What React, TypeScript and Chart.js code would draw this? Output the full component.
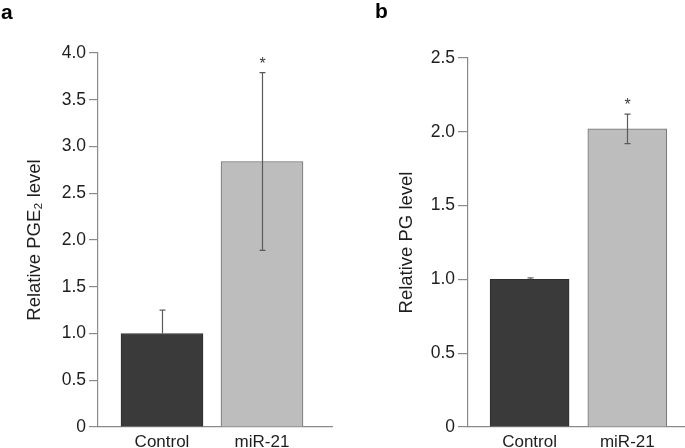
import React, { useEffect, useRef } from "react";
import { Chart, registerables } from "chart.js";

Chart.register(...registerables);

const categories = ["Control", "miR-21"];

const aValues = [1.0, 2.84];
const aLower = [1.0, 1.89];
const aUpper = [1.25, 3.79];
const aSig = [false, true];
const aTicks = [0, 0.5, 1.0, 1.5, 2.0, 2.5, 3.0, 3.5, 4.0];
const aTitle = "Relative PGE\u2082 level";

const bValues = [1.0, 2.02];
const bLower = [1.0, 1.92];
const bUpper = [1.01, 2.12];
const bSig = [false, true];
const bTicks = [0, 0.5, 1.0, 1.5, 2.0, 2.5];
const bTitle = "Relative PG level";

const FONT = "'Liberation Sans', Arial, Helvetica, sans-serif";
const AXIS = "#8a8a8a";
const TEXT = "#1e1e1e";

const errorPlugin = {
  id: "errbars",
  afterDatasetsDraw(chart: any) {
    const o = chart.options.plugins.errbars;
    if (!o) return;
    const xs = chart.scales.x;
    const ys = chart.scales.y;
    const ctx = chart.ctx;
    ctx.save();
    ctx.strokeStyle = "#5a5a5a";
    ctx.lineWidth = 1.2;
    o.values.forEach((v: number, i: number) => {
      const x = Math.round(xs.getPixelForValue(i)) + 0.5;
      const yU = ys.getPixelForValue(o.upper[i]);
      const yL = ys.getPixelForValue(o.lower[i]);
      ctx.beginPath();
      ctx.moveTo(x, yL);
      ctx.lineTo(x, yU);
      ctx.stroke();
      ctx.beginPath();
      ctx.moveTo(x - 3, yU);
      ctx.lineTo(x + 3, yU);
      if (o.lower[i] < v) {
        ctx.moveTo(x - 3, yL);
        ctx.lineTo(x + 3, yL);
      }
      ctx.stroke();
      if (o.sig[i]) {
        ctx.fillStyle = "#3a3a3a";
        ctx.font = `16px ${FONT}`;
        ctx.textAlign = "center";
        ctx.textBaseline = "middle";
        ctx.fillText("*", x, yU - 8);
      }
    });
    ctx.restore();
  },
};

function makeConfig(
  values: number[],
  lower: number[],
  upper: number[],
  sig: boolean[],
  ticks: number[],
  title: string,
  p: { top: number; right: number; yWidth: number; titlePad: number; xMin: number; xMax: number; barW: number; tickLen: number }
): any {
  return {
    type: "bar",
    data: {
      datasets: [
        {
          data: values.map((v, i) => ({ x: i, y: v })),
          backgroundColor: ["#3a3a3a", "#bdbdbd"],
          borderColor: ["#2e2e2e", "#707070"],
          borderWidth: 1,
          barThickness: p.barW,
        },
      ],
    },
    options: {
      responsive: false,
      animation: false,
      layout: { padding: { top: p.top, right: p.right, left: 0, bottom: 0 } },
      plugins: {
        legend: { display: false },
        tooltip: { enabled: false },
        errbars: { values, lower, upper, sig },
      },
      scales: {
        x: {
          type: "linear",
          min: p.xMin,
          max: p.xMax,
          offset: false,
          grid: { display: false, drawTicks: false },
          border: { display: true, color: AXIS, width: 1.2 },
          afterBuildTicks: (s: any) => {
            s.ticks = categories.map((_, i) => ({ value: i }));
          },
          afterFit: (s: any) => {
            s.height = 21;
          },
          ticks: {
            autoSkip: false,
            maxRotation: 0,
            padding: 5,
            color: TEXT,
            font: { size: 17, family: FONT },
            callback: (v: number) => categories[v] ?? "",
          },
        },
        y: {
          min: ticks[0],
          max: ticks[ticks.length - 1],
          afterBuildTicks: (s: any) => {
            s.ticks = ticks.map((t) => ({ value: t }));
          },
          afterFit: (s: any) => {
            s.width = p.yWidth;
          },
          grid: {
            display: true,
            drawOnChartArea: false,
            drawTicks: true,
            tickLength: p.tickLen,
            color: AXIS,
            lineWidth: 1.2,
          },
          border: { display: true, color: AXIS, width: 1.2 },
          ticks: {
            padding: 3,
            color: TEXT,
            font: { size: 17.5, family: FONT },
            callback: (v: number) => (v === 0 ? "0" : v.toFixed(1)),
          },
          title: {
            display: true,
            text: title,
            color: TEXT,
            font: { size: 18.5, family: FONT },
            padding: { top: p.titlePad, bottom: 0 },
          },
        },
      },
    },
    plugins: [errorPlugin],
  };
}

function Panel(props: { cfg: any; left: number; width: number }) {
  const ref = useRef<HTMLCanvasElement | null>(null);
  useEffect(() => {
    if (!ref.current) return;
    const c = new Chart(ref.current, props.cfg);
    return () => c.destroy();
  }, []);
  return (
    <canvas
      ref={ref}
      width={props.width}
      height={448}
      style={{ position: "absolute", left: props.left, top: 0, width: props.width, height: 448 }}
    />
  );
}

export default function App() {
  const cfgA = makeConfig(aValues, aLower, aUpper, aSig, aTicks, aTitle, {
    top: 53, right: 10, yWidth: 98, titlePad: 24, xMin: -0.64, xMax: 1.7, barW: 82, tickLen: 9,
  });
  const cfgB = makeConfig(bValues, bLower, bUpper, bSig, bTicks, bTitle, {
    top: 58, right: 0, yWidth: 125, titlePad: 53, xMin: -0.63, xMax: 1.59, barW: 79, tickLen: 10,
  });
  const lbl: React.CSSProperties = {
    position: "absolute",
    top: 1,
    fontFamily: FONT,
    fontWeight: "bold",
    fontSize: 21,
    lineHeight: "21px",
    color: "#000",
  };
  return (
    <div style={{ position: "fixed", left: 0, top: 0, width: 685, height: 448, background: "#fff", overflow: "hidden" }}>
      <Panel cfg={cfgA} left={0} width={342} />
      <Panel cfg={cfgB} left={343} width={342} />
      <div style={{ ...lbl, left: 1 }}>a</div>
      <div style={{ ...lbl, left: 375, top: 0 }}>b</div>
    </div>
  );
}
